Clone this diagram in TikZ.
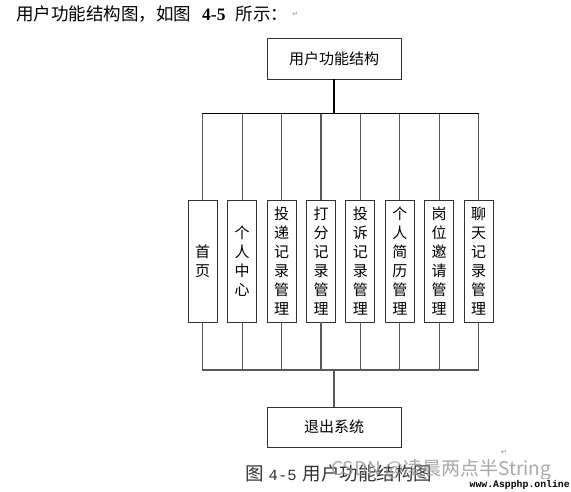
\documentclass[tikz,border=0pt]{standalone}
\usepackage{fontspec}
\setmainfont{Liberation Serif}
\newfontfamily\cjk{Noto Sans CJK SC}
\newfontfamily\symf{DejaVu Sans}
\newfontfamily\monof{Liberation Mono}
\tikzset{
  mainbox/.style={draw=black!80, line width=0.9pt, fill=white, minimum width=134pt, minimum height=41pt, inner sep=0pt, font=\cjk\fontsize{15}{18}\selectfont},
  colbox/.style={draw=black!80, line width=0.9pt, fill=white, minimum width=29pt, minimum height=122pt, inner sep=0pt, align=center, font=\cjk\fontsize{15}{19}\selectfont},
  busline/.style={draw=black!65, line width=1.2pt},
  topline/.style={draw=black, line width=1.2pt}
}
\begin{document}
\begin{tikzpicture}[x=1pt,y=-1pt]
\useasboundingbox (0,0) rectangle (571,491);
\fill[white] (0,0) rectangle (571,491);
% intro line
\node[anchor=west, inner sep=0pt, font=\cjk\fontsize{17.5}{19}\selectfont] (intro) at (16,14) {用户功能结构图，如图\hspace{11pt}{\rmfamily\bfseries 4-5}\hspace{10pt}所示：};
\node[anchor=west, inner sep=0pt, text=black!45, font=\symf\fontsize{7}{8}\selectfont] (ret1) at ([xshift=4pt]intro.east) {↵};
% boxes
\node[mainbox] (top) at (334,58.5) {用户功能结构};
\node[mainbox, minimum height=40pt] (bot) at (334,427) {退出系统};
\node[colbox] (c1) at (202.6,261) {首\\页};
\node[colbox] (c2) at (242.2,261) {个\\人\\中\\心};
\node[colbox] (c3) at (281.6,261) {投\\递\\记\\录\\管\\理};
\node[colbox] (c4) at (321.0,261) {打\\分\\记\\录\\管\\理};
\node[colbox] (c5) at (360.4,261) {投\\诉\\记\\录\\管\\理};
\node[colbox] (c6) at (399.8,261) {个\\人\\简\\历\\管\\理};
\node[colbox] (c7) at (439.2,261) {岗\\位\\邀\\请\\管\\理};
\node[colbox] (c8) at (478.6,261) {聊\\天\\记\\录\\管\\理};
% bus coordinates
\coordinate (busT) at (334,113.5);
\coordinate (busB) at (334,370);
% connectors
\draw[draw=black, line width=2.2pt] (top.south) -- (busT);
\foreach \i in {1,...,8} {
  \draw[busline] (c\i.north) -- (c\i.north |- busT);
  \draw[busline] (c\i.south) -- (c\i.south |- busB);
}
\draw[topline] ([xshift=-0.6pt]c1.north |- busT) -- ([xshift=0.6pt]c8.north |- busT);
\draw[busline] ([xshift=-0.6pt]c1.south |- busB) -- ([xshift=0.6pt]c8.south |- busB);
\draw[busline] (busB) -- (bot.north);
% caption
\node[anchor=west, inner sep=0pt, text=black!80, font=\cjk\fontsize{18.5}{20}\selectfont] (cap) at (245,473) {图\hspace{5pt}{\monof\fontsize{15.5}{17}\selectfont 4-5}\hspace{6pt}用户功能结构图};
\node[anchor=west, inner sep=0pt, text=black!40, opacity=0.85, font=\cjk\fontsize{19}{22}\selectfont] (wm) at (331,470) {CSDN @凌晨两点半String};
\node[anchor=west, inner sep=0.5pt, fill=white, font=\monof\bfseries\fontsize{9.8}{11}\selectfont] (site) at (469,484.5) {www.Aspphp.online};
\node[inner sep=0pt, text=black!45, font=\symf\fontsize{7}{8}\selectfont] (ret2) at (504,452) {↵};
\end{tikzpicture}
\end{document}
